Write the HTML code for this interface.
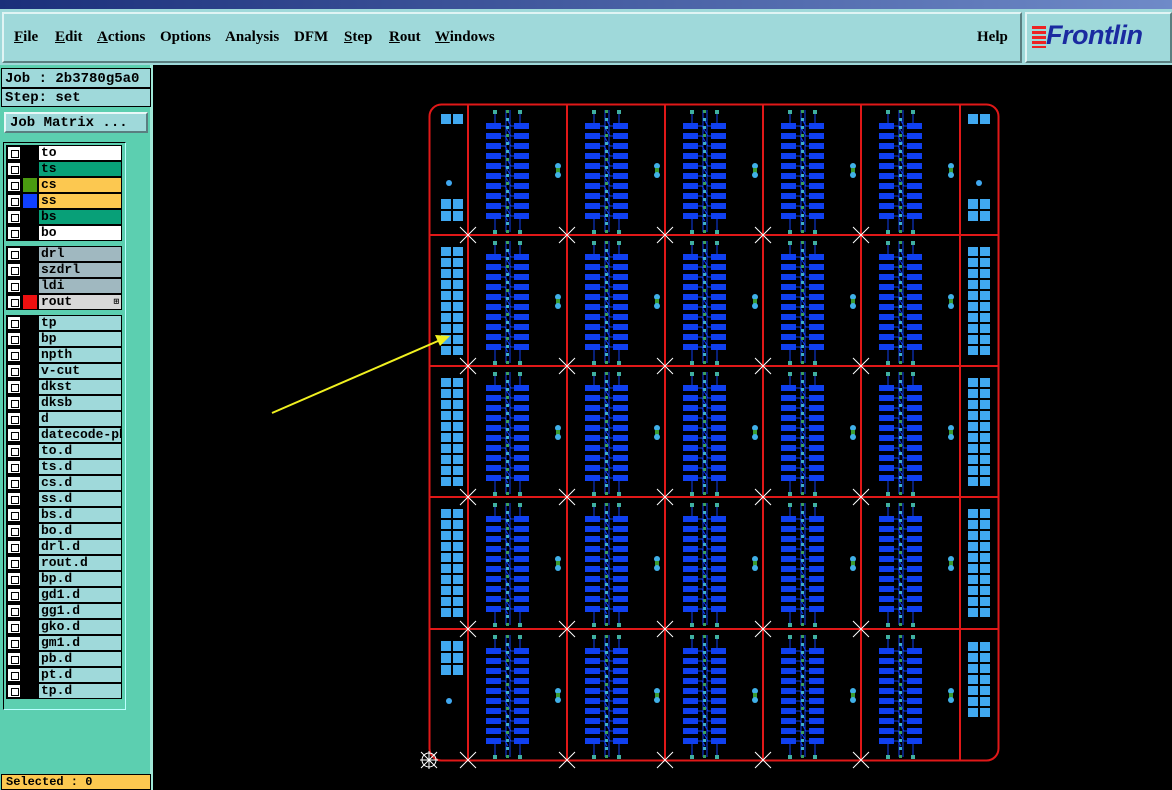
<!DOCTYPE html><html><head><meta charset="utf-8"><style>
*{margin:0;padding:0;box-sizing:border-box}
body{width:1172px;height:790px;overflow:hidden;background:#000;position:relative;font-family:"Liberation Mono",monospace}
.a{position:absolute}
.menu{font-family:"Liberation Serif",serif;font-weight:bold;font-size:15px;color:#000;top:29px}
.menu u{text-decoration:underline}
.mono{font-family:"Liberation Mono",monospace;font-weight:bold;font-size:13px;color:#000}
.row{position:absolute;left:6px;width:116px;height:16px;background:#000}
.row .cb{position:absolute;left:2px;top:2px;width:12px;height:12px;background:#fff;border:3px solid #fff;outline:none}
.row .cb:after{content:"";position:absolute;left:0;top:0;width:6px;height:6px;border:1px solid #000;background:#fff}
.row .nm{position:absolute;left:33px;top:1px;width:82px;height:14px;padding-left:2px;line-height:14px;font-weight:bold;font-size:13px;overflow:hidden;white-space:nowrap}
.row .sw{position:absolute;left:17px;top:1px;width:14px;height:14px}
</style></head><body>
<div class="a" style="left:0;top:0;width:1172px;height:9px;background:linear-gradient(90deg,#1b2f7a,#6f8ac8)"></div>
<div class="a" style="left:0;top:9px;width:1172px;height:56px;background:#9fd9da"></div>
<div class="a" style="left:2px;top:12px;width:1020px;height:51px;border:2px solid #5a7e80;border-top-color:#e0f4f4;border-left-color:#e0f4f4"></div>
<div class="a" style="left:1025px;top:12px;width:147px;height:51px;border:2px solid #5a7e80;border-top-color:#e0f4f4;border-left-color:#e0f4f4"></div>
<div class="a menu" style="left:14px"><u>F</u>ile</div>
<div class="a menu" style="left:55px"><u>E</u>dit</div>
<div class="a menu" style="left:97px"><u>A</u>ctions</div>
<div class="a menu" style="left:160px">Options</div>
<div class="a menu" style="left:225px">Analysis</div>
<div class="a menu" style="left:294px">DFM</div>
<div class="a menu" style="left:344px"><u>S</u>tep</div>
<div class="a menu" style="left:389px"><u>R</u>out</div>
<div class="a menu" style="left:435px"><u>W</u>indows</div>
<div class="a menu" style="left:977px">Help</div>
<div class="a" style="left:1032px;top:26px;width:14px;height:22px;background:repeating-linear-gradient(180deg,#e22 0 3px,transparent 3px 5px)"></div>
<div class="a" style="left:1046px;top:20px;font-family:'Liberation Sans',sans-serif;font-weight:bold;font-style:italic;font-size:27px;color:#1a2aa0;letter-spacing:-0.5px">Frontlin</div>

<div class="a" style="left:0;top:65px;width:153px;height:725px;background:#5ccfb0"></div>
<div class="a" style="left:150px;top:65px;width:3px;height:725px;background:#a0e8d8"></div>
<div class="a mono" style="left:1px;top:68px;width:150px;height:20px;background:#9fd9da;border:1px solid #000;padding:2px 3px;font-size:14px">Job : 2b3780g5a0</div>
<div class="a mono" style="left:1px;top:88px;width:150px;height:19px;background:#9fd9da;border:1px solid #000;padding:1px 3px;font-size:14px">Step: set</div>
<div class="a mono" style="left:4px;top:112px;width:144px;height:21px;background:#9fd9da;border:2px solid #5a7e80;border-top-color:#e8f8f8;border-left-color:#e8f8f8;padding:1px 4px;font-size:14px">Job Matrix ...</div>
<div class="a" style="left:3px;top:142px;width:123px;height:568px;border:1px solid #000;border-right-color:#bff;border-bottom-color:#bff"></div>
<div id="L"></div>
<div class="a mono" style="left:1px;top:774px;width:150px;height:16px;background:#fcc850;border:1px solid #000;padding:0 4px;font-size:12px;line-height:15px">Selected : 0</div>

<svg class="a" style="left:0;top:0" width="1172" height="790" id="S"></svg>
<script>
var rows=[["to","#fff",""],["ts","#08a078",""],["cs","#fcc850","#4a9a10"],["ss","#fcc850","#1040ff"],["bs","#08a078",""],["bo","#fff",""],null,["drl","#a0b8c0",""],["szdrl","#a0b8c0",""],["ldi","#a0b8c0",""],["rout","#d8d8d8","#ee1010"],null];
"tp bp npth v-cut dkst dksb d datecode-pbo to.d ts.d cs.d ss.d bs.d bo.d drl.d rout.d bp.d gd1.d gg1.d gko.d gm1.d pb.d pt.d tp.d".split(" ").forEach(function(n){rows.push([n,"#9fd9da",""])});
var h="",y=145;
rows.forEach(function(r){if(!r){y+=5;return}
h+='<div class="row" style="top:'+y+'px"><div class="cb"></div>'+(r[2]?'<div class="sw" style="background:'+r[2]+'"></div>':'')+'<div class="nm" style="background:'+r[1]+'">'+r[0]+(r[0]=="rout"?'<span style="float:right;font-size:9px;margin-right:2px">⊞</span>':'')+'</div></div>';y+=16});
document.getElementById("L").innerHTML=h;
var s="";
function R(x,y,w,h,c){s+='<rect x="'+x+'" y="'+y+'" width="'+w+'" height="'+h+'" fill="'+c+'"/>'}
function C(x,y,r,c){s+='<circle cx="'+x+'" cy="'+y+'" r="'+r+'" fill="'+c+'"/>'}
function X(x,y){s+='<path d="M'+(x-8)+' '+(y-8)+'L'+(x+8)+' '+(y+8)+'M'+(x+8)+' '+(y-8)+'L'+(x-8)+' '+(y+8)+'" stroke="#fff" stroke-width="1"/>'}
var vx=[468,567,665,763,861,960],hy=[104,235,366,497,629,760];
var B="#1040f0",LB="#40a8f0";
for(var r=0;r<5;r++){var y0=hy[r];
 for(var c=0;c<5;c++){var x0=vx[c];
  // traces
  for(var k=0;k<10;k++){var py=y0+19+k*10;
   s+='<path d="M'+(x0+32)+' '+(py+3)+'L'+(x0+37)+' '+(py+3)+'L'+(x0+40)+' '+(py+8)+'M'+(x0+46)+' '+(py+3)+'L'+(x0+43)+' '+(py+3)+'L'+(x0+40)+' '+(py-2)+'" stroke="'+B+'" fill="none" stroke-width="1"/>';}
  s+='<path d="M'+(x0+27)+' '+(y0+8)+'V'+(y0+19)+'M'+(x0+52)+' '+(y0+8)+'V'+(y0+19)+'M'+(x0+27)+' '+(y0+115)+'V'+(y0+128)+'M'+(x0+52)+' '+(y0+115)+'V'+(y0+128)+'M'+(x0+38)+' '+(y0+6)+'V'+(y0+128)+'M'+(x0+42)+' '+(y0+6)+'V'+(y0+128)+'" stroke="'+B+'" stroke-width="1"/>';
  for(var k=0;k<10;k++){var py=y0+19+k*10;R(x0+18,py,15,6,B);R(x0+46,py,15,6,B)}
  for(var k=0;k<16;k++)R(x0+38,y0+6+k*8,3,3,k%3?"#40b0c8":"#3aa060");
  [y0+6,y0+126].forEach(function(yy){R(x0+25,yy,4,4,"#40b0a0");R(x0+50,yy,4,4,"#40b0a0")});
  C(x0+90,y0+62,3,"#40b0e8");R(x0+88,y0+64,4,5,"#3a9a30");C(x0+90,y0+71,3,"#40b0e8");
 }
 // side columns
 [441,968].forEach(function(sx){
  if(r==0){
   if(sx==441){R(sx,114,10,10,LB);R(sx+12,114,10,10,LB);C(449,183,3,LB)}else{R(sx,114,10,10,LB);R(sx+12,114,10,10,LB);C(979,183,3,LB)}
   R(sx,199,10,10,LB);R(sx+12,199,10,10,LB);R(sx,211,10,10,LB);R(sx+12,211,10,10,LB);
  }else if(r==4){
   if(sx==441){for(var k=0;k<3;k++){R(sx,641+k*12,10,10,LB);R(sx+12,641+k*12,10,10,LB)}C(449,701,3,LB)}
   else{for(var k=0;k<7;k++){R(sx,642+k*11,10,9,LB);R(sx+12,642+k*11,10,9,LB)}}
  }else{for(var k=0;k<10;k++){R(sx,y0+12+k*11,10,9,LB);R(sx+12,y0+12+k*11,10,9,LB)}}
 });
}
s+='<rect x="429.5" y="104.5" width="569" height="656" rx="12" fill="none" stroke="#e01818" stroke-width="2"/>';
vx.forEach(function(x){s+='<line x1="'+x+'" y1="104" x2="'+x+'" y2="760" stroke="#e01818" stroke-width="2"/>'});
hy.slice(1,5).forEach(function(y){s+='<line x1="429" y1="'+y+'" x2="998" y2="'+y+'" stroke="#e01818" stroke-width="2"/>'});
hy.slice(1).forEach(function(y){vx.slice(0,5).forEach(function(x){X(x,y)})});
s+='<circle cx="429" cy="760" r="7" fill="none" stroke="#fff"/>';X(429,760);s+='<line x1="420" y1="760" x2="438" y2="760" stroke="#fff"/><line x1="429" y1="751" x2="429" y2="769" stroke="#fff"/>';
s+='<line x1="272" y1="413" x2="438" y2="341" stroke="#f0f020" stroke-width="2"/><path d="M450 336L435 335L440 346Z" fill="#f0f020"/>';
document.getElementById("S").innerHTML=s;
</script>
</body></html>
